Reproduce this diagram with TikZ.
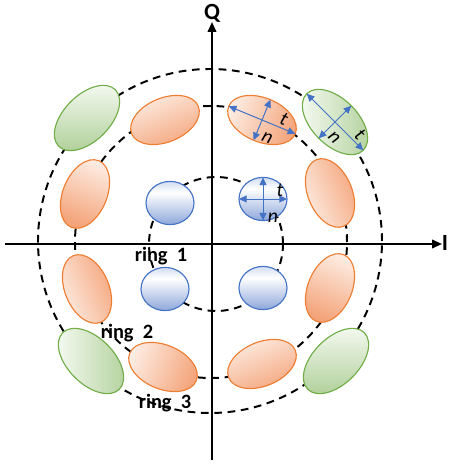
\documentclass[tikz,border=0pt]{standalone}
\usepackage{fontspec}
\setmainfont{Carlito}
\usepackage{tikz}
\usetikzlibrary{arrows.meta,positioning,calc,shapes.geometric}

\definecolor{orangeline}{HTML}{ED7D31}
\definecolor{orangelight}{HTML}{FDEEE5}
\definecolor{orangedark}{HTML}{F4A47A}
\definecolor{greenline}{HTML}{70AD47}
\definecolor{greenlight}{HTML}{F7FBF4}
\definecolor{greendark}{HTML}{B2D19C}
\definecolor{blueline}{HTML}{4472C4}
\definecolor{bluelight}{HTML}{D2DDF2}
\definecolor{bluedark}{HTML}{8DA7DA}
\definecolor{arrowblue}{HTML}{4472C4}

\pgfdeclareverticalshading{bluedot}{100bp}{color(0bp)=(bluedark); color(25bp)=(bluedark); color(62bp)=(white); color(75bp)=(bluelight); color(100bp)=(bluelight)}

\begin{document}
\begin{tikzpicture}[x=0.025cm,y=0.025cm,
	ringline/.style={dash pattern=on 5.5pt off 4pt, line width=1.4pt},
	axisline/.style={-{Triangle[length=7pt,width=6pt]}, line width=1.4pt},
	axislabel/.style={font=\fontsize{16.5}{19}\selectfont\bfseries, inner sep=0pt},
	ringlabel/.style={font=\fontsize{14.5}{17}\selectfont\bfseries, inner sep=0pt},
	ring1/.style={ellipse, draw=blueline, line width=0.8pt, shading=bluedot, minimum width=1.2cm, minimum height=1.08cm, inner sep=0pt, outer sep=0pt},
	ring2/.style={ellipse, draw=orangeline, line width=0.8pt, top color=orangelight, bottom color=orangedark, minimum width=1.8cm, minimum height=1.1cm, inner sep=0pt, outer sep=0pt},
	ring3/.style={ellipse, draw=greenline, line width=0.8pt, top color=greenlight, bottom color=greendark, minimum width=2cm, minimum height=1.15cm, inner sep=0pt, outer sep=0pt},
	tnarrow/.style={{Triangle[length=5.5pt,width=5pt]}-{Triangle[length=5.5pt,width=5pt]}, draw=arrowblue, line width=0.7pt},
	tn/.style={font=\fontsize{14}{16}\selectfont\itshape, inner sep=0pt}]

	\useasboundingbox (-212,-220) rectangle (236,244);

	% rings
	\coordinate (c1) at (4,0);
	\coordinate (c2) at (-1,2);
	\coordinate (c3) at (-2,3);
	\draw[ringline] (c1) circle[radius=67];
	\draw[ringline] (c2) circle[radius=136];
	\draw[ringline] (c3) circle[radius=172];

	% axes
	\coordinate (qlow) at (0,-216);
	\coordinate (qtip) at (0,222);
	\coordinate (ilow) at (-207,0);
	\coordinate (itip) at (230,0);
	\draw[axisline] (qlow) -- (qtip);
	\draw[axisline] (ilow) -- (itip);
	\node[axislabel] (Q) at (0,231) {Q};
	\node[axislabel] (I) at (233,1) {I};

	% ring 1
	\node[ring1] (b1) at (-42,41) {};
	\node[ring1] (b2) at (51,45) {};
	\node[ring1] (b3) at (-47,-45) {};
	\node[ring1] (b4) at (51,-44) {};

	% ring 2
	\node[ring2, rotate=-22.5, shading angle=67.5] (o1) at (50,124) {};
	\node[ring2, rotate=22.5, shading angle=22.5] (o2) at (-47,124) {};
	\node[ring2, rotate=67.5, shading angle=-22.5] (o3) at (-127,50) {};
	\node[ring2, rotate=-67.5, shading angle=112.5] (o4) at (-125,-45) {};
	\node[ring2, rotate=-22.5, shading angle=67.5] (o5) at (-49,-123) {};
	\node[ring2, rotate=22.5, shading angle=22.5] (o6) at (50,-120) {};
	\node[ring2, rotate=67.5, shading angle=-22.5] (o7) at (118,-44) {};
	\node[ring2, rotate=-67.5, shading angle=112.5] (o8) at (118,51) {};

	% ring 3
	\node[ring3, rotate=-45, shading angle=90] (g1) at (123,122) {};
	\node[ring3, rotate=45, shading angle=0] (g2) at (-125,126) {};
	\node[ring3, rotate=-45, shading angle=90] (g3) at (-121,-117) {};
	\node[ring3, rotate=45, shading angle=0] (g4) at (124,-117) {};

	% t and n
	\draw[tnarrow] (b2.west) -- (b2.east);
	\draw[tnarrow] (b2.north) -- (b2.south);
	\draw[tnarrow] (o1.west) -- (o1.east);
	\draw[tnarrow] (o1.north) -- (o1.south);
	\draw[tnarrow] (g1.west) -- (g1.east);
	\draw[tnarrow] (g1.north) -- (g1.south);

	\node[tn] (tb) at (68,54) {t};
	\node[tn] (nb) at (61,26) {n};
	\node[tn, rotate=-22.5] (to) at (72,125) {t};
	\node[tn, rotate=-22.5] (no) at (55,106) {n};
	\node[tn, rotate=-45] (tg) at (148,110) {t};
	\node[tn, rotate=-45] (ng) at (122,106) {n};

	% labels
	\node[ringlabel] (r1) at (-51,-12) {ring\ \ 1};
	\node[ringlabel] (r2) at (-85,-89) {ring\ \ 2};
	\node[ringlabel] (r3) at (-47,-159) {ring\ \ 3};

\end{tikzpicture}
\end{document}
